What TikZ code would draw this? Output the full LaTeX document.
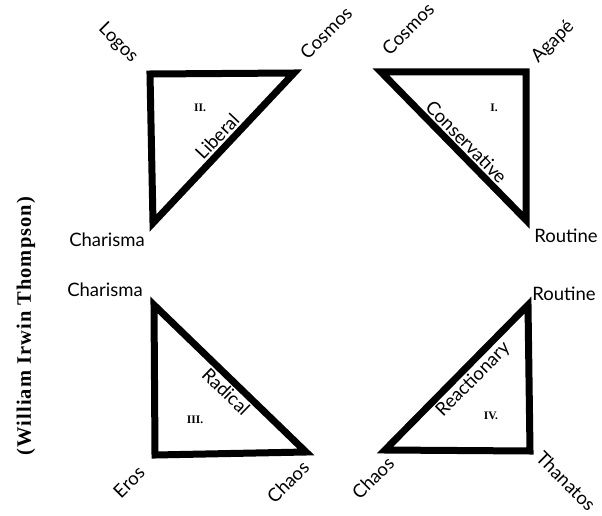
\documentclass[tikz,border=0pt]{standalone}
\usepackage{fontspec}
\setmainfont{Lato}
\newfontfamily\authorfont[LetterSpace=5]{Liberation Serif}
\newfontfamily\numfont{Liberation Serif}
\begin{document}
\begin{tikzpicture}[x=1pt,y=-1pt,
  tri/.style={line width=7pt,line join=miter,miter limit=10},
  lbl/.style={font=\fontsize{18.5}{21}\selectfont,inner sep=0pt},
  num/.style={font=\numfont\fontsize{11.5}{12}\selectfont\bfseries,inner sep=0pt}]
\useasboundingbox (0,0) rectangle (602,516);
% Triangle II (Liberal)
\coordinate (a1) at (150,74);
\coordinate (a2) at (294,73);
\coordinate (a3) at (153,223);
\draw[tri] (a1) -- (a2) -- (a3) -- cycle;
\path (a3) -- (a2) node[lbl,pos=0.52,sloped,above=5.5pt] (liberal) {Liberal};
% Triangle I (Conservative)
\coordinate (b1) at (381,72);
\coordinate (b2) at (526,72);
\coordinate (b3) at (526,220);
\draw[tri] (b1) -- (b2) -- (b3) -- cycle;
\path (b1) -- (b3) node[lbl,pos=0.53,sloped,above=5pt] (conservative) {Conservative};
% Triangle III (Radical)
\coordinate (c1) at (154,305);
\coordinate (c2) at (155,455);
\coordinate (c3) at (306,452);
\draw[tri] (c1) -- (c2) -- (c3) -- cycle;
\path (c1) -- (c3) node[lbl,pos=0.53,sloped,below=5pt] (radical) {Radical};
% Triangle IV (Reactionary)
\coordinate (d1) at (528,305);
\coordinate (d2) at (385,450);
\coordinate (d3) at (530,451);
\draw[tri] (d1) -- (d2) -- (d3) -- cycle;
\path (d2) -- (d1) node[lbl,pos=0.55,sloped,below=5pt] (reactionary) {Reactionary};
% vertex labels
\node[lbl,rotate=-45] (logos) at (118,43) {Logos};
\node[lbl,rotate=45] (cosmosL) at (326,33) {Cosmos};
\node[lbl,rotate=45] (cosmosR) at (408,29) {Cosmos};
\node[lbl,rotate=45] (agape) at (553,42) {Agapé};
\node[lbl] (charismaT) at (107,240) {Charisma};
\node[lbl] (routineT) at (566,236) {Routine};
\node[lbl] (charismaB) at (105,290) {Charisma};
\node[lbl] (routineB) at (564,294) {Routine};
\node[lbl,rotate=45] (eros) at (129,482) {Eros};
\node[lbl,rotate=45] (chaosL) at (288,482) {Chaos};
\node[lbl,rotate=45] (chaosR) at (373,478) {Chaos};
\node[lbl,rotate=-45] (thanatos) at (566,481) {Thanatos};
% numerals
\node[num] (n2) at (200,108) {II.};
\node[num] (n1) at (494,108) {I.};
\node[num] (n3) at (195,420) {III.};
\node[num] (n4) at (491,416) {IV.};
% author
\node[font=\authorfont\fontsize{20.5}{24}\selectfont\bfseries,rotate=90,inner sep=0pt] (author) at (26,326) {(William Irwin Thompson)};
\end{tikzpicture}
\end{document}
